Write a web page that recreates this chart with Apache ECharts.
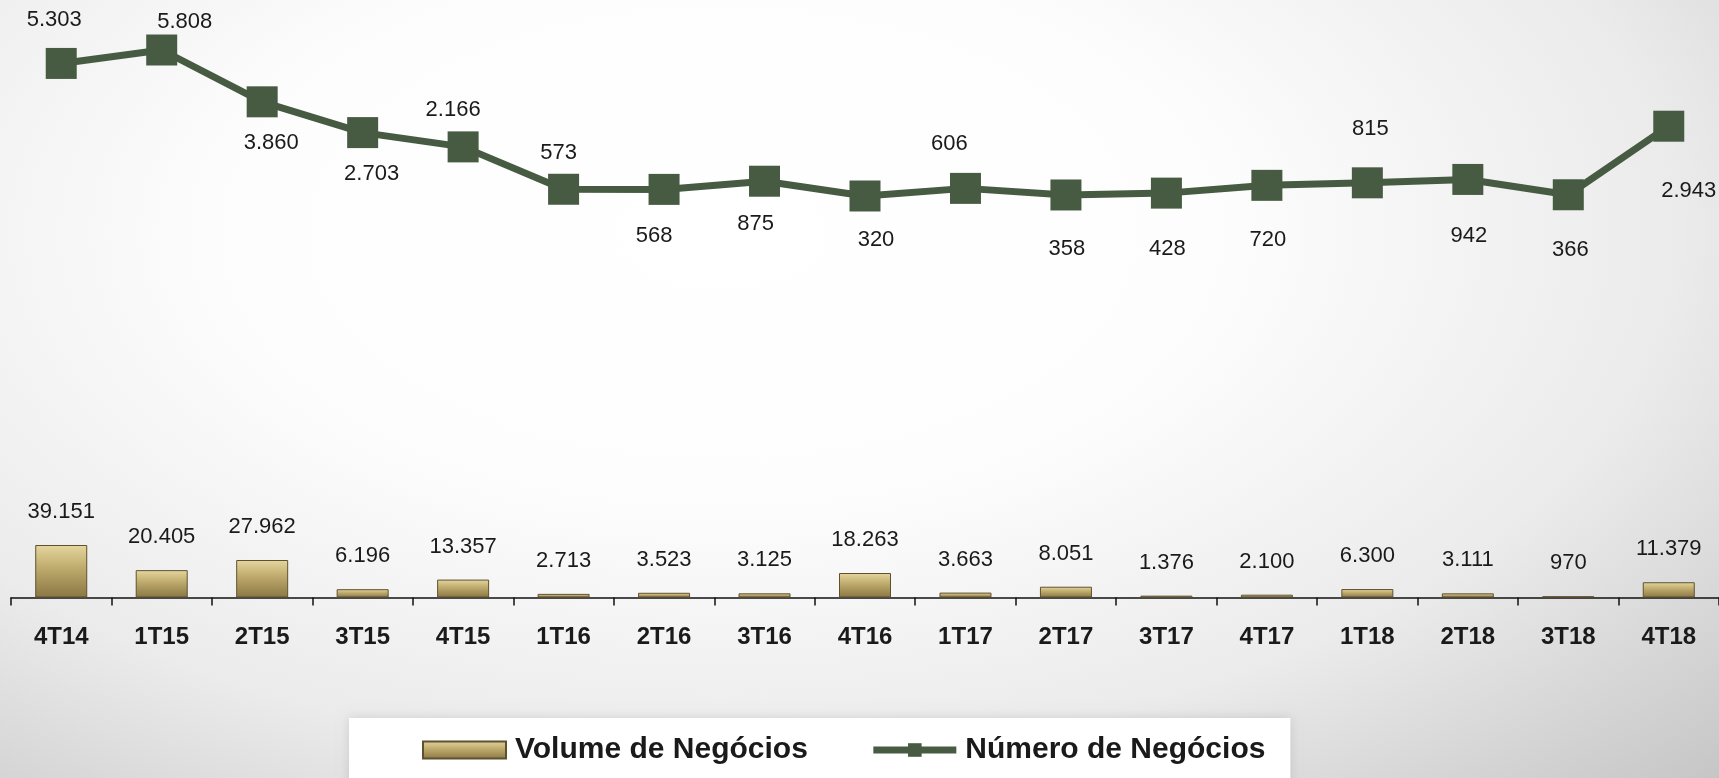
<!DOCTYPE html>
<html>
<head>
<meta charset="utf-8">
<script src="https://cdn.jsdelivr.net/npm/echarts@6/dist/echarts.min.js"></script>
<style>
html, body { margin: 0; padding: 0; }
#chart {
	width: 1719px;
	height: 778px;
	background: radial-gradient(ellipse at 42% 30%, #ffffff 0%, #fdfdfd 35%, #ebebeb 68%, #c6c6c6 100%);
}
</style>
</head>
<body>
<div id="chart"></div>
<script>
// categorias (trimestres)
var quarters = ['4T14', '1T15', '2T15', '3T15', '4T15', '1T16', '2T16', '3T16', '4T16',
	'1T17', '2T17', '3T17', '4T17', '1T18', '2T18', '3T18', '4T18'];
// Volume de Negócios
var volumeValues = [39151, 20405, 27962, 6196, 13357, 2713, 3523, 3125, 18263,
	3663, 8051, 1376, 2100, 6300, 3111, 970, 11379];
// Número de Negócios
var numberValues = [5303, 5808, 3860, 2703, 2166, 573, 568, 875, 320,
	606, 358, 428, 720, 815, 942, 366, 2943];
// deslocamento dos rótulos da linha (px, em relação ao marcador)
var lineLabelShift = [[-7, -43], [23, -28], [9, 41], [9, 41], [-10, -37], [-5, -36],
	[-10, 47], [-9, 43], [11, 44], [-16, -44], [1, 54], [1, 56], [1, 55], [3, -54],
	[1, 56], [2, 55], [20, 65]];

function fmt(v) {
	return String(v).replace(/\B(?=(\d{3})+(?!\d))/g, '.');
}

var lineColor = '#475b43';
var textFont = '"Liberation Sans", Arial, sans-serif';

var barColor = new echarts.graphic.LinearGradient(0, 0, 0, 1, [ {
	offset : 0,
	color : '#e6d79f'
}, {
	offset : 0.4,
	color : '#c2ae70'
}, {
	offset : 1,
	color : '#8a7743'
} ]);

var chart = echarts.init(document.getElementById('chart'));
var option = {
	backgroundColor : 'transparent',
	animation : false,
	textStyle : {
		fontFamily : textFont
	},
	grid : [ {
		left : 11,
		width : 1712,
		top : 545,
		height : 52.5
	}, {
		left : 11,
		width : 1712,
		top : 50,
		height : 154.5
	} ],
	legend : {
		left : 349,
		top : 718,
		padding : [ 17, 25, 40, 73 ],
		backgroundColor : '#ffffff',
		shadowBlur : 10,
		shadowColor : 'rgba(0,0,0,0.12)',
		itemWidth : 83,
		itemHeight : 17,
		itemGap : 62,
		textStyle : {
			fontSize : 30,
			fontWeight : 'bold',
			color : '#1a1a1a',
			padding : [ 0, 0, 0, 4 ]
		},
		data : [ {
			name : 'Volume de Negócios',
			icon : 'rect'
		}, {
			name : 'Número de Negócios',
			lineStyle : {
				width : 7
			}
		} ]
	},
	xAxis : [ {
		type : 'category',
		gridIndex : 0,
		data : quarters,
		boundaryGap : true,
		axisLine : {
			lineStyle : {
				color : '#111',
				width : 1.5
			}
		},
		axisTick : {
			show : true,
			length : 8,
			lineStyle : {
				color : '#111',
				width : 1.5
			}
		},
		axisLabel : {
			margin : 28,
			fontSize : 24,
			fontWeight : 'bold',
			color : '#1a1a1a'
		}
	}, {
		type : 'category',
		gridIndex : 1,
		data : quarters,
		boundaryGap : true,
		show : false
	} ],
	yAxis : [ {
		type : 'value',
		gridIndex : 0,
		min : 0,
		max : 'dataMax',
		show : false,
		splitLine : { show : false }
	}, {
		type : 'value',
		gridIndex : 1,
		min : 0,
		max : 'dataMax',
		show : false,
		splitLine : { show : false }
	} ],
	series : [ {
		name : 'Volume de Negócios',
		type : 'bar',
		xAxisIndex : 0,
		yAxisIndex : 0,
		barWidth : 52,
		data : volumeValues,
		itemStyle : {
			color : barColor,
			borderColor : '#5e5130',
			borderWidth : 1
		},
		label : {
			show : true,
			position : 'top',
			distance : 22,
			fontSize : 22,
			color : '#1a1a1a',
			formatter : function(p) {
				return fmt(p.value);
			}
		}
	}, {
		name : 'Número de Negócios',
		type : 'line',
		xAxisIndex : 1,
		yAxisIndex : 1,
		symbol : 'rect',
		symbolSize : 31,
		lineStyle : {
			color : lineColor,
			width : 7
		},
		itemStyle : {
			color : lineColor
		},
		label : {
			show : true,
			position : 'inside',
			fontSize : 22,
			color : '#1a1a1a',
			formatter : function(p) {
				return fmt(p.value);
			}
		},
		data : numberValues.map(function(v, i) {
			return {
				value : v,
				label : {
					offset : lineLabelShift[i]
				}
			};
		})
	} ]
};
chart.setOption(option);
</script>
</body>
</html>
